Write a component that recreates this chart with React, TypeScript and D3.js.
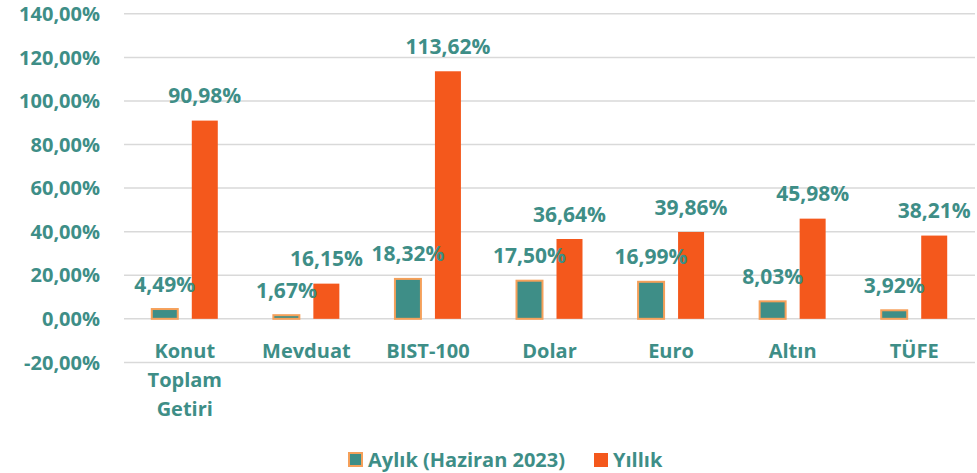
import React from "react";
import * as d3 from "d3";

const categories = [["Konut", "Toplam", "Getiri"], ["Mevduat"], ["BIST-100"], ["Dolar"], ["Euro"], ["Altın"], ["TÜFE"]];
const monthly = [4.49, 1.67, 18.32, 17.5, 16.99, 8.03, 3.92];
const yearly = [90.98, 16.15, 113.62, 36.64, 39.86, 45.98, 38.21];
const yTicks = [-20, 0, 20, 40, 60, 80, 100, 120, 140];
const seriesNames = ["Aylık (Haziran 2023)", "Yıllık"];

const W = 977, H = 473;
const TEAL = "#3E8E87";
const ORANGE = "#F4581C";
const TEXT = "#3E8E87";
const FONT = "'Open Sans', sans-serif";

const fmt = (v: number) => v.toFixed(2).replace(".", ",") + "%";

export default function App() {
  const x = d3.scaleBand().domain(categories.map((_, i) => String(i))).range([124, 975]);
  const y = d3.scaleLinear().domain([-20, 140]).range([362.4, 13.8]);
  const bw = 26;
  const off = 20;
  return (
    <svg width={W} height={H} style={{ position: "absolute", left: 0, top: 0, fontFamily: FONT }}>
      <rect width={W} height={H} fill="#fff" />
      {yTicks.map((t) => (
        <g key={t}>
          <line x1={124} x2={975} y1={y(t)} y2={y(t)} stroke="#d9d9d9" strokeWidth={1.5} />
          <text x={100} y={y(t)} dy="0.36em" textAnchor="end" fontSize={20} fontWeight={700} fill={TEXT}>
            {fmt(t)}
          </text>
        </g>
      ))}
      {categories.map((c, i) => {
        const cx = x(String(i))! + x.bandwidth() / 2;
        const m = monthly[i], yr = yearly[i];
        return (
          <g key={i}>
            <rect x={cx - off - bw / 2} y={y(m)} width={bw} height={y(0) - y(m)} fill={TEAL} stroke="#F5A05A" strokeWidth={2} />
            <rect x={cx + off - bw / 2} y={y(yr)} width={bw} height={y(0) - y(yr)} fill={ORANGE} />
            <text x={cx - off} y={y(m) - 25} dy="0.36em" textAnchor="middle" fontSize={21} fontWeight={700} fill={TEXT}>
              {fmt(m)}
            </text>
            <text x={cx + off} y={y(yr) - 25} dy="0.36em" textAnchor="middle" fontSize={21} fontWeight={700} fill={TEXT}>
              {fmt(yr)}
            </text>
            {c.map((line, j) => (
              <text key={j} x={cx} y={351 + j * 29} dy="0.36em" textAnchor="middle" fontSize={20} fontWeight={700} fill={TEXT}>
                {line}
              </text>
            ))}
          </g>
        );
      })}
      <g>
        <rect x={349} y={453} width={13} height={13} fill={TEAL} stroke="#F5A05A" strokeWidth={2} />
        <text x={368} y={460} dy="0.36em" fontSize={20} fontWeight={700} fill={TEXT}>{seriesNames[0]}</text>
        <rect x={594} y={453} width={14} height={14} fill={ORANGE} />
        <text x={613} y={460} dy="0.36em" fontSize={20} fontWeight={700} fill={TEXT}>{seriesNames[1]}</text>
      </g>
    </svg>
  );
}
